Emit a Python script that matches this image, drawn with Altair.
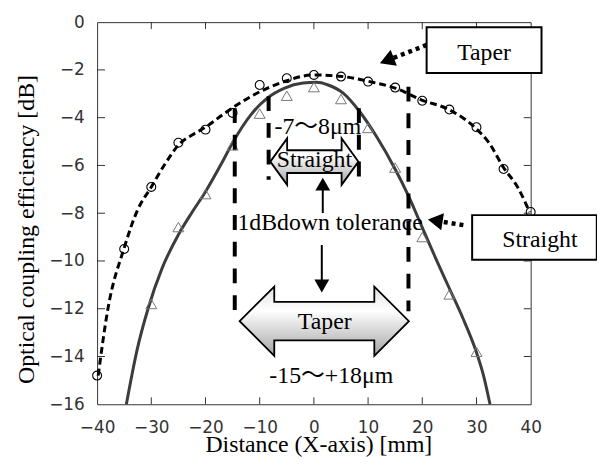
import altair as alt
import pandas as pd

# ---------------- measured data ----------------
taper_x = [-40, -35, -30, -25, -20, -15, -10, -5, 0, 5, 10, 15, 20, 25, 30, 35, 40]
taper_y = [-14.8, -9.5, -6.9, -5.05, -4.5, -3.8, -2.63, -2.35, -2.21, -2.28, -2.49,
           -2.74, -3.29, -3.66, -4.4, -6.15, -7.95]

straight_x = [-30, -25, -20, -15, -10, -5, 0, 5, 10, 15, 20, 25, 30]
straight_y = [-11.8, -8.58, -7.2, -5.16, -3.83, -3.08, -2.72, -3.22, -4.43, -6.09,
              -9.0, -11.4, -13.8]

# fitted curves
taper_fit_x = [-39.8, -38.0, -35.0, -32.6, -30.0, -27.5, -24.8, -22.3, -20.0, -16.8,
               -11.6, -5.5, 0.0, 5.4, 10.3, 15.1, 19.8, 24.9, 29.8, 32.3, 35.0, 37.7, 39.8]
taper_fit_y = [-14.8, -12.0, -9.45, -7.9, -6.9, -5.95, -5.1, -4.7, -4.4, -3.87,
               -3.11, -2.49, -2.21, -2.28, -2.49, -2.77, -3.25, -3.66, -4.43, -5.05,
               -6.09, -6.95, -7.95]

straight_fit_x = [-34.6, -32.6, -30.6, -28.0, -25.0, -22.3, -20.0, -17.0, -15.0, -11.6,
                  -8.6, -5.5, -2.0, 0.5, 2.5, 5.4, 8.4, 11.5, 15.1, 17.3, 20.0, 22.5,
                  24.9, 27.5, 29.8, 31.3, 32.5]
straight_fit_y = [-16.0, -13.7, -12.0, -10.3, -8.9, -7.9, -7.1, -5.9, -5.05, -3.87,
                  -3.18, -2.77, -2.55, -2.52, -2.62, -2.97, -3.73, -4.77, -6.2, -7.2,
                  -8.6, -9.9, -11.1, -12.4, -13.7, -14.8, -16.0]

x_ticks = [-40, -30, -20, -10, 0, 10, 20, 30, 40]
y_ticks = [-16, -14, -12, -10, -8, -6, -4, -2, 0]

# tolerance markers (data units)
tol_x = [-14.6, 17.45, -8.35, 8.3]
tol_top = [-3.6, -2.7, -3.1, -3.6]
tol_bottom = [-12.15, -12.1, -6.6, -6.5]

# annotation texts
ann_text = ["1dBdown tolerance", "-7〜8μm", "-15〜+18μm", "Straight", "Taper"]
ann_x = [3.0, 0.73, 3.2, 0.1, 2.0]
ann_y = [-8.7, -4.68, -15.09, -6.08, -12.85]

box_text = ["Taper", "Straight"]
box_x1 = [20.8, 29.2]
box_x2 = [42.0, 52.2]
box_y1 = [-0.21, -8.08]
box_y2 = [-2.13, -9.95]
box_tx = [31.4, 41.7]
box_ty = [-1.58, -9.41]

# ---------------- scales / axes ----------------
xs = alt.Scale(domain=[-40, 40], nice=False, zero=False)
ys = alt.Scale(domain=[-16, 0], nice=False, zero=False)
X = alt.X("x:Q", scale=xs, axis=alt.Axis(
    values=x_ticks, title="Distance (X-axis) [mm]", labelFlush=False,
    labelOverlap=False, labelPadding=16, titleX=223.5, titleY=48,
    titleBaseline="alphabetic", titleAlign="center"))
Y = alt.Y("y:Q", scale=ys, axis=alt.Axis(
    values=y_ticks, title="Optical coupling efficiency [dB]", labelOverlap=False,
    labelPadding=13, titleX=-64, titleY=209, titleAngle=-90,
    titleBaseline="alphabetic", titleAlign="center"))
X2 = alt.X2("x2:Q")
Y2 = alt.Y2("y2:Q")

serif = "Liberation Serif, Noto Sans CJK JP"

# ---------------- tables ----------------
taper_pts = pd.DataFrame({"x": taper_x, "y": taper_y})
straight_pts = pd.DataFrame({"x": straight_x, "y": straight_y})
taper_fit = pd.DataFrame({"x": taper_fit_x, "y": taper_fit_y})
straight_fit = pd.DataFrame({"x": straight_fit_x, "y": straight_fit_y})

tick_rows = []
for v in x_ticks[1:-1]:
    tick_rows.append({"x": v, "x2": v, "y": -16, "y2": -16 + 7 / 24.125})
    tick_rows.append({"x": v, "x2": v, "y": 0, "y2": -7 / 24.125})
for v in y_ticks[1:-1]:
    tick_rows.append({"x": -40, "x2": -40 + 8 / 5.475, "y": v, "y2": v})
    tick_rows.append({"x": 40 - 7 / 5.475, "x2": 40, "y": v, "y2": v})
ticks_df = pd.DataFrame(tick_rows)

tol_df = pd.DataFrame({"x": tol_x, "y": tol_top, "y2": tol_bottom})
ann_df = pd.DataFrame({"x": ann_x, "y": ann_y, "t": ann_text})
box_df = pd.DataFrame({"x": box_x1, "x2": box_x2, "y": box_y1, "y2": box_y2})
box_t_df = pd.DataFrame({"x": box_tx, "y": box_ty, "t": box_text})

# arrows
dot_lines = pd.DataFrame({"x": [20.82, 27.58], "y": [-0.953, -8.50],
                          "x2": [13.46, 22.39], "y2": [-1.608, -8.31]})
dot_heads = pd.DataFrame({"x": [13.46, 22.39], "y": [-1.608, -8.31], "a": [248.6, 279.0]})
v_lines = pd.DataFrame({"x": [1.64, 1.46], "y": [-7.99, -9.33], "y2": [-6.78, -11.05]})
v_heads = pd.DataFrame({"x": [1.64, 1.46], "y": [-6.78, -11.05], "a": [0.0, 180.0]})

dbl_straight = pd.DataFrame({"x": [0.09], "y": [-5.84]})
dbl_taper = pd.DataFrame({"x": [1.92], "y": [-12.52]})

grad = alt.Gradient(gradient="linear", x1=0, x2=0, y1=0, y2=1,
                    stops=[alt.GradientStop(color="#e2e2e2", offset=0),
                           alt.GradientStop(color="#ffffff", offset=0.35),
                           alt.GradientStop(color="#a4a4a4", offset=1)])

path_straight = ("M-1,0 L-0.618,-0.528 L-0.618,-0.258 L0.618,-0.258 L0.618,-0.528 L1,0 "
                 "L0.618,0.528 L0.618,0.258 L-0.618,0.258 L-0.618,0.528 Z")
path_taper = ("M-1,0 L-0.591,-0.409 L-0.591,-0.228 L0.591,-0.228 L0.591,-0.409 L1,0 "
              "L0.591,0.409 L0.591,0.228 L-0.591,0.228 L-0.591,0.409 Z")

# ---------------- layers ----------------
l_sfit = alt.Chart(straight_fit).mark_line(color="#3c3c3c", strokeWidth=3,
                                            interpolate="monotone").encode(x=X, y=Y)
l_tfit = alt.Chart(taper_fit).mark_line(color="black", strokeWidth=3, strokeDash=[7, 4],
                                         interpolate="monotone").encode(x=X, y=Y)
l_tri = alt.Chart(straight_pts).mark_point(shape="triangle-up", size=121, color="#777",
                                           strokeWidth=1, opacity=1).encode(x=X, y=Y)
l_cir = alt.Chart(taper_pts).mark_point(shape="circle", size=81, color="black",
                                        strokeWidth=1.1, opacity=1).encode(x=X, y=Y)
l_ticks = alt.Chart(ticks_df).mark_rule(color="#333", strokeWidth=1).encode(
    x=X, x2=X2, y=Y, y2=Y2)
l_tol = alt.Chart(tol_df).mark_rule(color="black", strokeWidth=4, strokeDash=[15, 12]).encode(
    x=X, y=Y, y2=Y2)
l_dbl1 = alt.Chart(dbl_straight).mark_point(shape=path_straight, size=89 * 89, filled=True,
                                            fill=grad, stroke="black", strokeWidth=1.8,
                                            opacity=1).encode(x=X, y=Y)
l_dbl2 = alt.Chart(dbl_taper).mark_point(shape=path_taper, size=171 * 171, filled=True,
                                         fill=grad, stroke="black", strokeWidth=1.8,
                                         opacity=1).encode(x=X, y=Y)
l_vline = alt.Chart(v_lines).mark_rule(color="black", strokeWidth=2).encode(x=X, y=Y, y2=Y2)
l_vhead = alt.Chart(v_heads).mark_point(shape="triangle-up", size=225, filled=True,
                                        color="black", opacity=1).encode(
    x=X, y=Y, angle=alt.Angle("a:Q", scale=None))
l_dline = alt.Chart(dot_lines).mark_rule(color="black", strokeWidth=4.5,
                                         strokeDash=[4, 4]).encode(x=X, x2=X2, y=Y, y2=Y2)
l_dhead = alt.Chart(dot_heads).mark_point(shape="triangle-up", size=300, filled=True,
                                          color="black", opacity=1).encode(
    x=X, y=Y, angle=alt.Angle("a:Q", scale=None))
l_box = alt.Chart(box_df).mark_rect(fill="white", stroke="black", strokeWidth=2).encode(
    x=X, x2=X2, y=Y, y2=Y2)
l_boxt = alt.Chart(box_t_df).mark_text(font=serif, fontSize=24, color="black",
                                       align="center", baseline="alphabetic").encode(
    x=X, y=Y, text="t:N")
l_ann = alt.Chart(ann_df).mark_text(font=serif, fontSize=24, color="black",
                                    align="center", baseline="alphabetic").encode(
    x=X, y=Y, text="t:N")

chart = alt.layer(
    l_ticks, l_sfit, l_tfit, l_tri, l_cir, l_tol, l_dbl1, l_dbl2, l_vline, l_vhead,
    l_ann, l_dline, l_dhead, l_box, l_boxt
).properties(
    width=438, height=386,
    autosize=alt.AutoSizeParams(type="none"),
    padding={"left": 90, "top": 12, "right": 67, "bottom": 54},
).configure_view(
    stroke="#333", strokeWidth=1
).configure_axis(
    domain=False, ticks=False, tickSize=0, grid=False,
    labelFont="DejaVu Sans", labelFontSize=17, labelColor="#333",
    titleFont=serif, titleFontSize=24, titleFontWeight="normal", titleColor="black"
)

chart.save("out.html", embed_options={"renderer": "svg", "actions": False})
